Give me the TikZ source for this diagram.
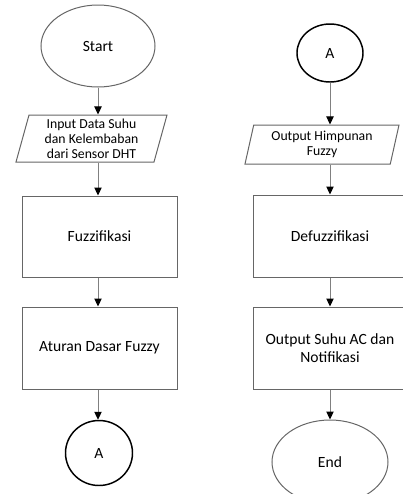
\documentclass[tikz,border=0pt]{standalone}
\usepackage{fontspec}
\setmainfont{Carlito}
\usetikzlibrary{shapes.geometric,arrows.meta}

\tikzset{every picture/.style={line width=0.75pt}}
\tikzset{
terminal/.style={ellipse,draw=black!60,inner sep=0pt,font=\fontsize{11.7}{13.5}\selectfont},
connector/.style={ellipse,draw=black,line width=1.1pt,inner sep=0pt,font=\fontsize{11.7}{13.5}\selectfont},
process/.style={rectangle,draw=black!60,inner sep=0pt,align=center,font=\fontsize{11.7}{13.5}\selectfont},
io/.style={trapezium,trapezium left angle=72,trapezium right angle=108,trapezium stretches body,draw=black!60,inner sep=0pt,align=center,font=\fontsize{10.3}{11.4}\selectfont},
flow/.style={draw=black!50,-{Triangle[length=6pt,width=5.5pt,color=black]}}
}

\begin{document}
\begin{tikzpicture}[x=0.75pt,y=0.75pt,yscale=-1,xscale=1]
\useasboundingbox (0,0) rectangle (403,494);

% left column
\node [terminal,minimum width=114*0.75pt,minimum height=82*0.75pt] (start) at (98,46) {Start};
\node [io,minimum width=151*0.75pt,minimum height=47*0.75pt] (input) at (91.5,138.5) {Input Data Suhu\\dan Kelembaban\\dari Sensor DHT};
\node [process,minimum width=155*0.75pt,minimum height=81*0.75pt] (fuzz) at (99.5,236.5) {Fuzzifikasi};
\node [process,minimum width=155*0.75pt,minimum height=82*0.75pt] (rules) at (99.5,348) {Aturan Dasar Fuzzy};
\node [connector,minimum width=67*0.75pt,minimum height=65*0.75pt] (conA) at (99,453) {A};

% right column
\node [connector,minimum width=66*0.75pt,minimum height=58*0.75pt] (conB) at (330,53) {A};
\node [io,minimum width=154*0.75pt,minimum height=39*0.75pt] (outset) at (322,144.5) {Output Himpunan\\Fuzzy};
\node [process,minimum width=154*0.75pt,minimum height=82*0.75pt] (defuzz) at (330,236) {Defuzzifikasi};
\node [process,minimum width=154*0.75pt,minimum height=82*0.75pt] (result) at (330,348) {Output Suhu AC dan\\Notifikasi};
\node [terminal,minimum width=116*0.75pt,minimum height=84*0.75pt] (end) at (330,462) {End};

% arrows
\draw [flow] (start.south) -- (start.south |- input.north);
\draw [flow] (input.south -| start.south) -- (start.south |- fuzz.north);
\draw [flow] (fuzz.south -| start.south) -- (rules.north -| start.south);
\draw [flow] (rules.south -| start.south) -- (conA.north -| start.south);

\draw [flow] (conB.south) -- (conB.south |- outset.north);
\draw [flow] (outset.south -| conB.south) -- (defuzz.north);
\draw [flow] (defuzz.south) -- (result.north);
\draw [flow] (result.south) -- (end.north);

\end{tikzpicture}
\end{document}
